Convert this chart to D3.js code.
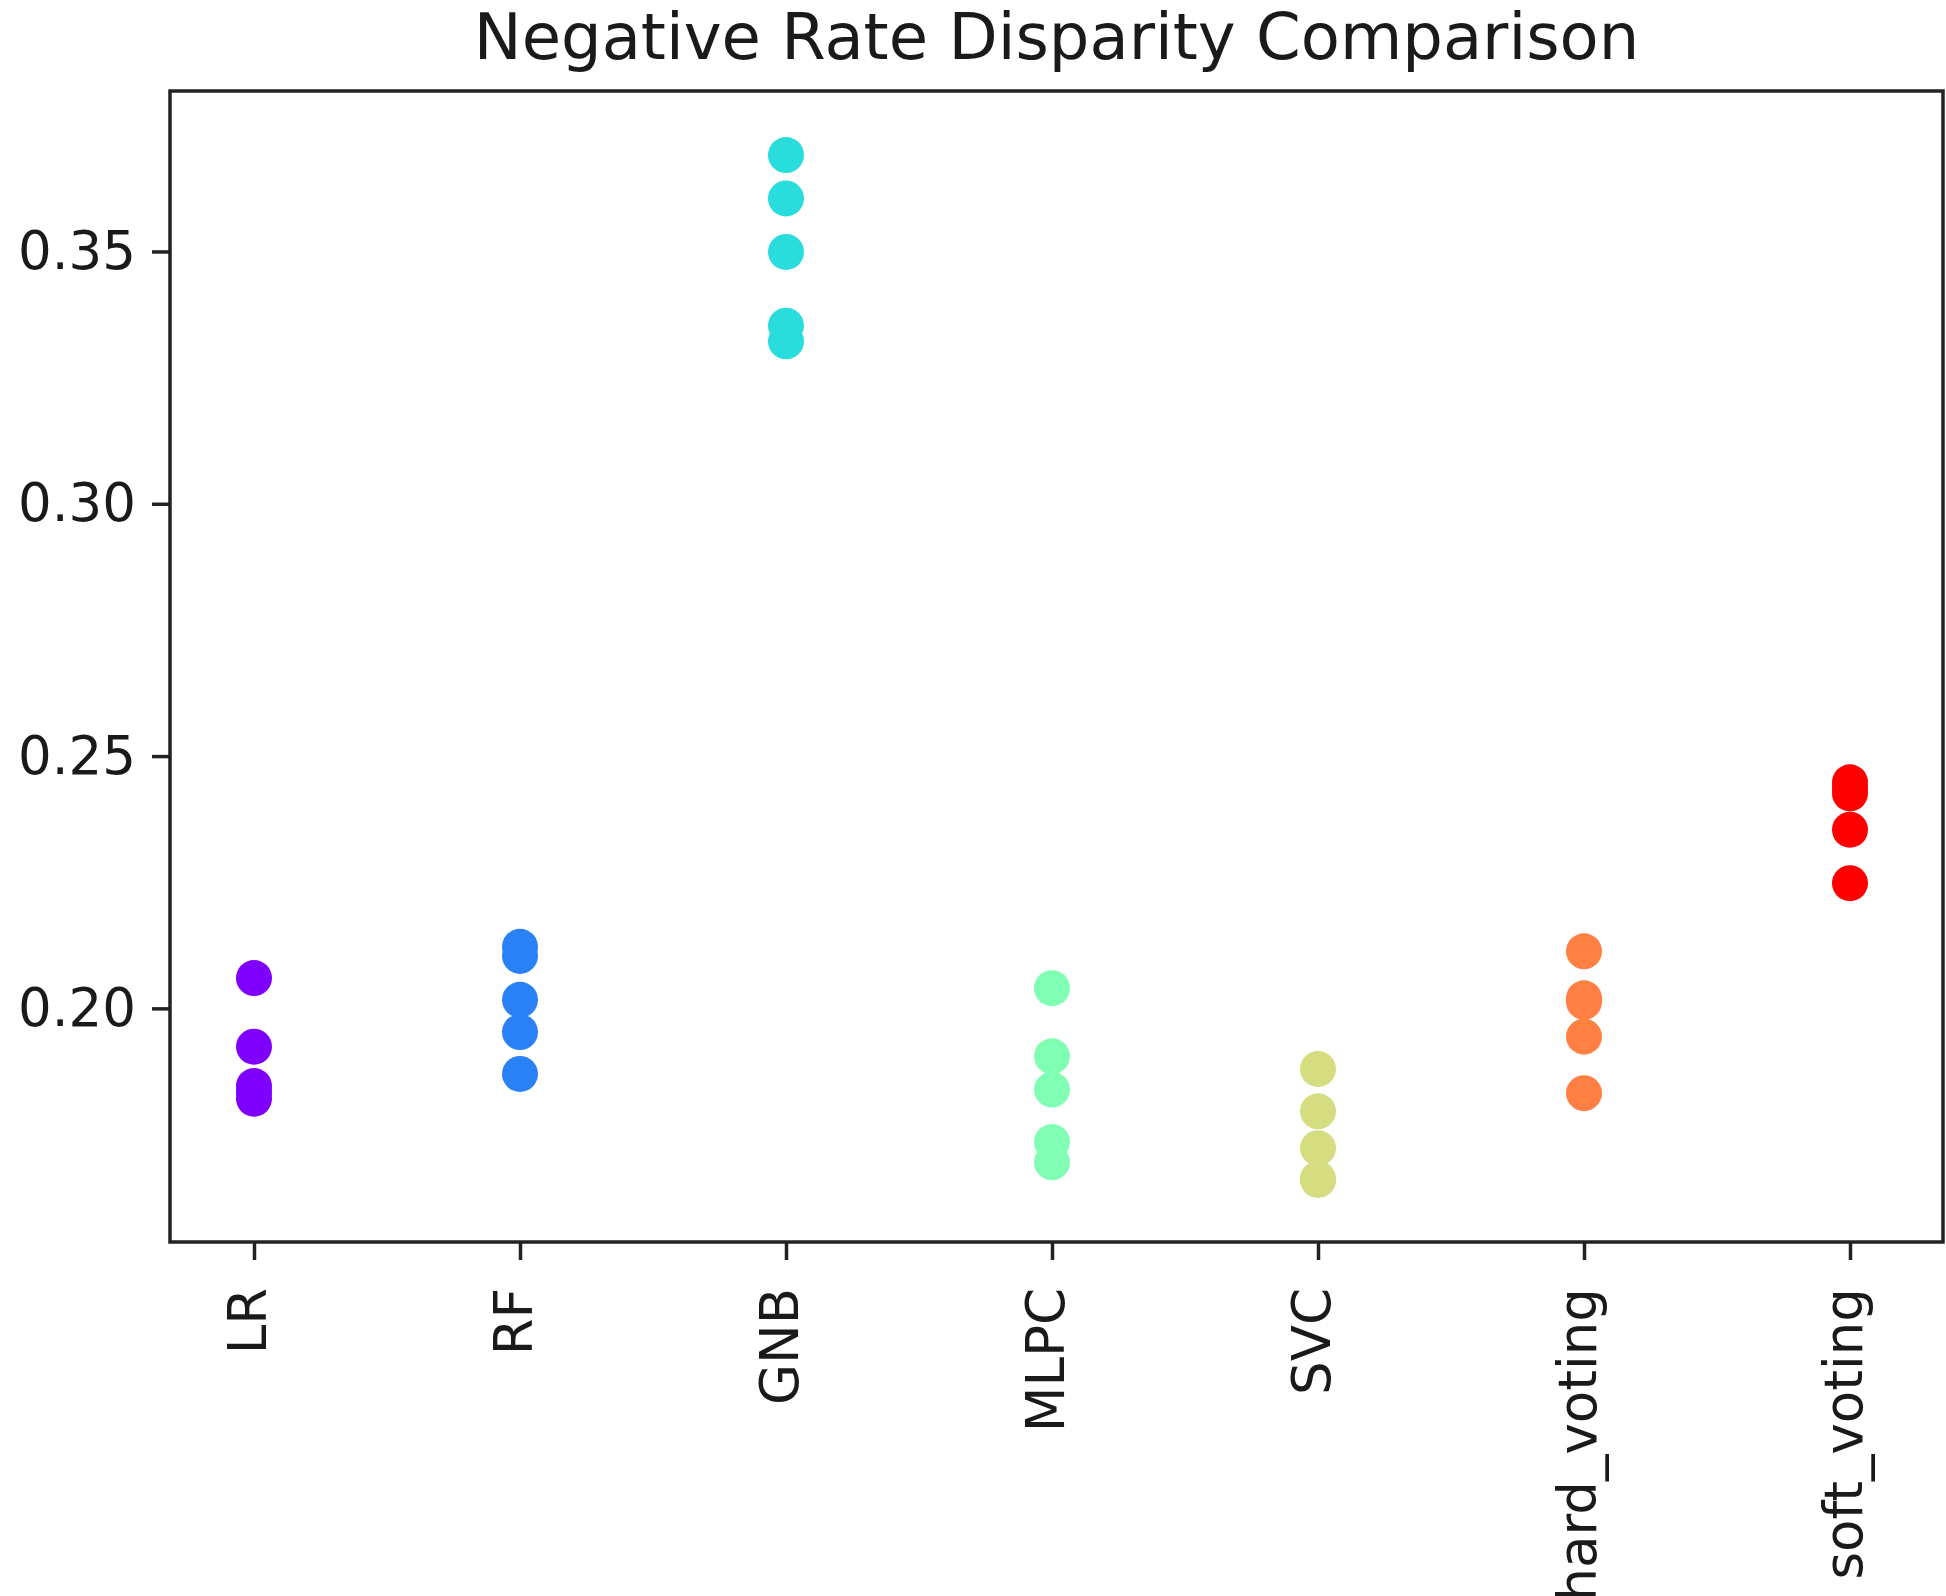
<!DOCTYPE html>
<html>
<head>
<meta charset="utf-8">
<script src="https://cdn.jsdelivr.net/npm/d3@7"></script>
<style>
  body { margin: 0; background: #fff; }
  text { font-family: "DejaVu Sans", sans-serif; fill: #1a1a1a; }
</style>
</head>
<body>
<svg id="chart"></svg>
<script>
const width = 1946;
const height = 1596;

// models on the x axis
const models = ["LR", "RF", "GNB", "MLPC", "SVC", "hard_voting", "soft_voting"];

// negative rate disparity per fold
const lrValues = [0.2060, 0.1924, 0.1846, 0.1834, 0.1821];
const rfValues = [0.2122, 0.2104, 0.2017, 0.1953, 0.1870];
const gnbValues = [0.3691, 0.3605, 0.3499, 0.3353, 0.3322];
const mlpcValues = [0.2040, 0.1905, 0.1839, 0.1735, 0.1695];
const svcValues = [0.1880, 0.1796, 0.1723, 0.1662, 0.1660];
const hardValues = [0.2113, 0.2020, 0.2013, 0.1944, 0.1832];
const softValues = [0.2448, 0.2437, 0.2426, 0.2354, 0.2248];

const yTicks = [0.20, 0.25, 0.30, 0.35];
const yDomain = [0.1537, 0.3818];

const colors = ["#8000ff", "#2a80f6", "#2adddd", "#80ffb4", "#d4dd80", "#ff8042", "#ff0000"];

const allValues = [lrValues, rfValues, gnbValues, mlpcValues, svcValues, hardValues, softValues];
const points = [];
allValues.forEach((vals, i) => {
    vals.forEach(v => points.push({ model: models[i], value: v, color: colors[i] }));
});

const plot = { left: 170, right: 1943, top: 91, bottom: 1242 };

const svg = d3.select("#chart")
    .attr("width", width)
    .attr("height", height);

const x = d3.scalePoint()
    .domain(models)
    .range([254, 1850]);

const y = d3.scaleLinear()
    .domain(yDomain)
    .range([plot.bottom, plot.top]);

// points
svg.append("g")
    .selectAll("circle")
    .data(points)
    .enter()
    .append("circle")
    .attr("cx", d => x(d.model))
    .attr("cy", d => y(d.value))
    .attr("r", 18)
    .attr("fill", d => d.color);

// y axis
const yAxis = svg.append("g")
    .attr("transform", `translate(${plot.left},0)`)
    .call(d3.axisLeft(y).tickValues(yTicks).tickFormat(d3.format(".2f")).tickSize(18).tickPadding(16));
yAxis.select(".domain").remove();
yAxis.selectAll(".tick line").attr("stroke", "#222").attr("stroke-width", 3.5);
yAxis.selectAll(".tick text").style("font-size", "53px").attr("fill", "#1a1a1a");

// x axis
const xAxis = svg.append("g")
    .attr("transform", `translate(0,${plot.bottom})`)
    .call(d3.axisBottom(x).tickSize(18).tickFormat(""));
xAxis.select(".domain").remove();
xAxis.selectAll(".tick line").attr("stroke", "#222").attr("stroke-width", 3.5);

svg.append("g")
    .selectAll("text")
    .data(models)
    .enter()
    .append("text")
    .attr("transform", d => `translate(${x(d) + 12},${plot.bottom + 46}) rotate(-90)`)
    .attr("text-anchor", "end")
    .style("font-size", "53px")
    .text(d => d);

// frame
svg.append("rect")
    .attr("x", plot.left)
    .attr("y", plot.top)
    .attr("width", plot.right - plot.left)
    .attr("height", plot.bottom - plot.top)
    .attr("fill", "none")
    .attr("stroke", "#222")
    .attr("stroke-width", 3.5);

// title
svg.append("text")
    .attr("x", (plot.left + plot.right) / 2)
    .attr("y", 59)
    .attr("text-anchor", "middle")
    .style("font-size", "64px")
    .text("Negative Rate Disparity Comparison");
</script>
</body>
</html>
